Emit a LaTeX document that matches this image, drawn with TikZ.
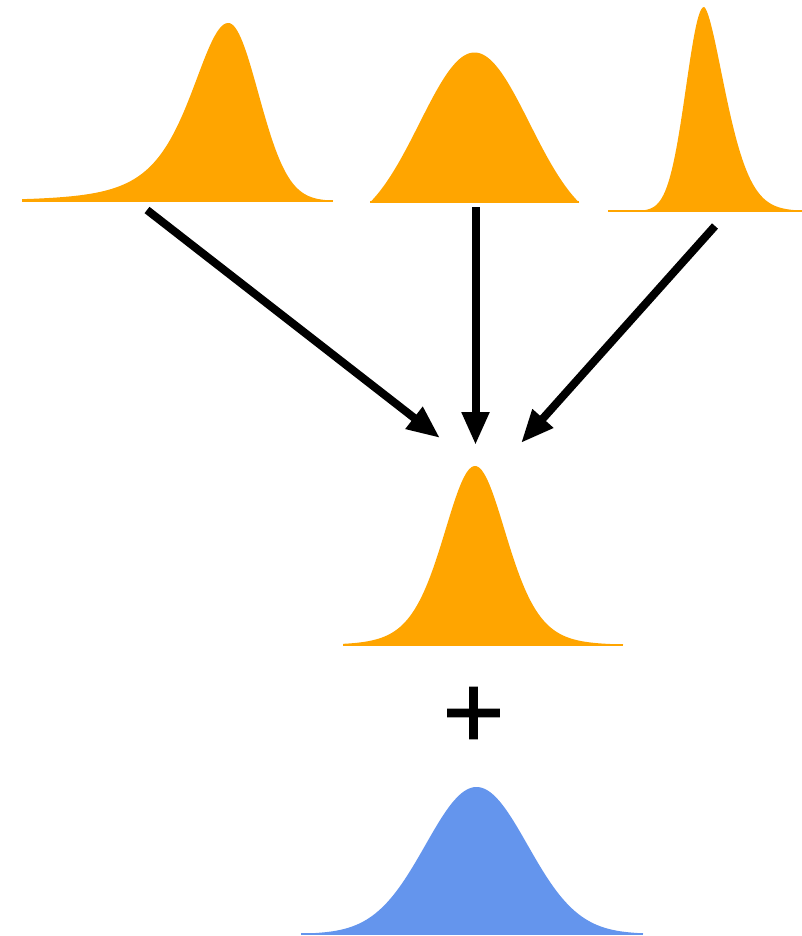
\documentclass[tikz,border=0pt]{standalone}
\usepackage{fontspec}
\newfontfamily\plusfont[FakeBold=2.5]{DejaVu Sans}
\usetikzlibrary{arrows.meta}
\definecolor{curveorange}{HTML}{FFA500}
\definecolor{curveblue}{HTML}{6495ED}
\tikzset{
  orangecurve/.style={fill=curveorange},
  bluecurve/.style={fill=curveblue},
  baseorange/.style={draw=curveorange, line width=1.2pt},
  baseblue/.style={draw=curveblue, line width=1.2pt},
  bigarrow/.style={draw=black, line width=8pt, -{Triangle[length=33pt,width=26pt]}},
}
\begin{document}
\begin{tikzpicture}[x=1pt,y=-1pt]
\useasboundingbox (0,0) rectangle (802,936);
% top-left skewed curve
\fill[orangecurve] (22,201)
  -- plot[domain=22:228.3,samples=90] (\x,{201-178*pow(1+((228.3-\x)/40)^2/3,-2)})
  -- plot[domain=228.3:333,samples=60] (\x,{201-178*exp(-0.5*((\x-228.3)/30)^2)})
  -- (333,201) -- cycle;
\draw[baseorange] (22,201) -- (333,201);
% top-middle wide curve
\fill[orangecurve] (370,202)
  -- plot[domain=370:579,samples=90] (\x,{202-149.5*(exp(-0.5*((\x-474.5)/55)^2)-0.167)/0.833})
  -- (579,202) -- cycle;
\draw[baseorange] (370,202) -- (579,202);
% top-right narrow curve
\fill[orangecurve] (608,211)
  -- plot[domain=608:704,samples=70] (\x,{211-204*exp(-0.5*((\x-704)/18)^2)})
  -- plot[domain=704:802,samples=70] (\x,{211-204*exp(-0.693*pow((\x-704)/25+0.0001,1.6))})
  -- (802,211) -- cycle;
\draw[baseorange] (608,211) -- (802,211);
% middle curve
\fill[orangecurve] (343,645)
  -- plot[domain=343:623,samples=110] (\x,{645-179*pow(1+((\x-475)/32.5)^2/8,-4.5)})
  -- (623,645) -- cycle;
\draw[baseorange] (343,645) -- (623,645);
% blue curve
\fill[bluecurve] (301,934)
  -- plot[domain=301:643,samples=120] (\x,{934-147*exp(-0.5*((\x-476.5)/51)^2)})
  -- (643,934) -- cycle;
\draw[baseblue] (301,934) -- (643,934);
% arrows
\coordinate (s1) at (147,210);
\coordinate (s2) at (475.5,207);
\coordinate (s3) at (715,226);
\coordinate (t1) at (440,438);
\coordinate (t2) at (475.5,445);
\coordinate (t3) at (521,443);
\draw[bigarrow] (s1) -- (t1);
\draw[bigarrow] (s2) -- (t2);
\draw[bigarrow] (s3) -- (t3);
% plus
\node[inner sep=0pt] (plus) at (473.5,713) {\plusfont\fontsize{81}{81}\selectfont +};
\end{tikzpicture}
\end{document}
